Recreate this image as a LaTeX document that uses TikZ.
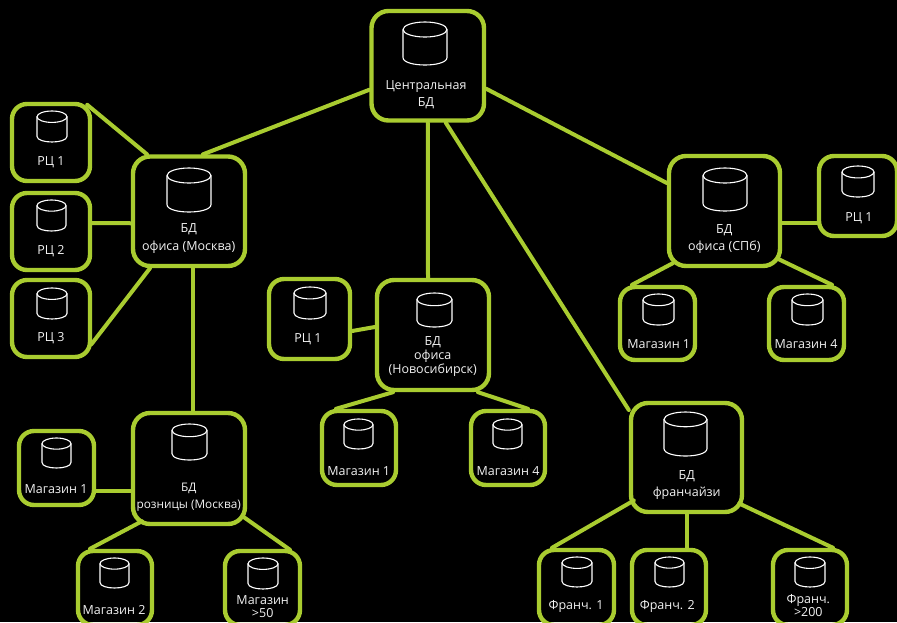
\documentclass[tikz,border=0pt]{standalone}
\usepackage{fontspec}
\setmainfont{Open Sans}
\definecolor{lime}{HTML}{A9CC30}
\definecolor{txt}{HTML}{F2F2F2}
\tikzset{
  x=1pt,y=-1pt,
  dbbox/.style={draw=lime,line width=4.4pt,rounded corners=17pt,inner sep=0pt,minimum width=#1},
  smallbox/.style={dbbox=#1,rounded corners=15pt},
  link/.style={draw=lime,line width=4pt,line cap=round},
  lbl/.style={text=txt,inner sep=0pt,align=center,font=\fontsize{12.5}{#1}\selectfont},
  lbl/.default=15,
  cyl/.style={draw=white,line width=1.1pt}
}
% cylinder icon: x1,y1,x2,y2 of its outline
\newcommand{\dbicon}[4]{%
  \pgfmathsetmacro{\ry}{0.129*(#3-#1)+1.83}%
  \pgfmathsetmacro{\cx}{(#1+#3)/2}%
  \pgfmathsetmacro{\rx}{(#3-#1)/2}%
  \pgfmathsetmacro{\ta}{#2+\ry}%
  \pgfmathsetmacro{\ba}{#4-\ry}%
  \pgfmathsetmacro{\bc}{#4+\ry/3}%
  \draw[cyl] (\cx,\ta) ellipse [x radius=\rx,y radius=\ry];
  \draw[cyl] (#1,\ta) -- (#1,\ba) .. controls (#1,\bc) and (#3,\bc) .. (#3,\ba) -- (#3,\ta);
}
\begin{document}
\begin{tikzpicture}
\fill[black] (0,0) rectangle (897,622);
\useasboundingbox (0,0) rectangle (897,622);
\clip (0,0) rectangle (897,622);
% boxes
\node[dbbox=112.5pt,minimum height=109.5pt] (cen) at (427.75,65.75) {};
\node[dbbox=112pt,minimum height=109.5pt] (mos) at (189,211.25) {};
\node[smallbox=78pt,minimum height=77pt] (r1) at (51,142.5) {};
\node[smallbox=78pt,minimum height=77pt] (r2) at (51,231.5) {};
\node[smallbox=78pt,minimum height=77pt] (r3) at (51,318.5) {};
\node[dbbox=112pt,minimum height=111pt] (ret) at (189,468.5) {};
\node[smallbox=75pt,minimum height=74pt] (m1) at (56.5,468) {};
\node[smallbox=74pt,minimum height=74pt] (m2) at (115,588) {};
\node[smallbox=75pt,minimum height=74pt] (m50) at (262.5,588) {};
\node[dbbox=112pt,minimum height=110pt] (nov) at (433,335) {};
\node[smallbox=81pt,minimum height=80pt] (nr) at (309.5,319) {};
\node[smallbox=74pt,minimum height=74pt] (nm1) at (359,448) {};
\node[smallbox=74pt,minimum height=74pt] (nm4) at (508,448) {};
\node[dbbox=111pt,minimum height=110pt] (spb) at (724.5,211) {};
\node[smallbox=78pt,minimum height=80pt] (sr) at (858,196) {};
\node[smallbox=75pt,minimum height=73pt] (sm1) at (657.5,323.5) {};
\node[smallbox=75pt,minimum height=73pt] (sm4) at (806.5,323.5) {};
\node[dbbox=111pt,minimum height=109pt] (fr) at (686.5,457.5) {};
\node[smallbox=75pt,minimum height=75pt] (f1) at (576.5,587.5) {};
\node[smallbox=74pt,minimum height=75pt] (f2) at (669,587.5) {};
\node[smallbox=74pt,minimum height=75pt] (f3) at (810,587.5) {};
% connectors
\draw[link] ([shift={(0,24)}]cen.west) -- ([shift={(14,0)}]mos.north);
\draw[link] (cen.south) -- ([shift={(-5,0)}]nov.north);
\draw[link] ([shift={(18,0)}]cen.south) -- ([shift={(0,-47.5)}]fr.west);
\draw[link] ([shift={(0,23)}]cen.east) -- ([shift={(0,-28)}]spb.west);
\draw[link] ([shift={(-5,3)}]r1.north east) -- ([shift={(-42,0)}]mos.north);
\draw[link] ([shift={(0,-8.5)}]r2.east) -- ([shift={(0,12)}]mos.west);
\draw[link] ([shift={(-1,26)}]r3.east) -- ([shift={(-39,0)}]mos.south);
\draw[link] ([shift={(3.7,0)}]mos.south) -- ([shift={(3.7,0)}]ret.north);
\draw[link] ([shift={(0,23)}]m1.east) -- ([shift={(0,22.5)}]ret.west);
\draw[link] ([shift={(-47,-5)}]ret.south) -- ([shift={(-25,0)}]m2.north);
\draw[link] ([shift={(-5,47.5)}]ret.east) -- ([shift={(27.5,1)}]m50.north);
\draw[link] ([shift={(0,12)}]nr.east) -- ([shift={(0,-8)}]nov.west);
\draw[link] ([shift={(-40,0)}]nov.south) -- ([shift={(-23,0)}]nm1.north);
\draw[link] ([shift={(45,0)}]nov.south) -- ([shift={(20,0)}]nm4.north);
\draw[link] ([shift={(0,12)}]spb.east) -- ([shift={(0,27)}]sr.west);
\draw[link] ([shift={(6,-5)}]spb.south west) -- ([shift={(-25.5,0)}]sm1.north);
\draw[link] ([shift={(-5,47.5)}]spb.east) -- ([shift={(25.5,0)}]sm4.north);
\draw[link] ([shift={(5,43)}]fr.west) -- ([shift={(-24.5,0)}]f1.north);
\draw[link] (fr.south) -- ([shift={(17.5,0)}]f2.north);
\draw[link] ([shift={(-5,46)}]fr.east) -- ([shift={(23,0)}]f3.north);
% database icons
\dbicon{403}{22}{447}{65}
\dbicon{167}{168}{211}{212}
\dbicon{703}{168}{747}{211}
\dbicon{664}{412}{707}{456}
\dbicon{172}{424}{207}{460}
\dbicon{417}{293}{452}{327}
\dbicon{37}{111}{67}{142}
\dbicon{37}{200}{66}{231}
\dbicon{37}{288}{67}{319}
\dbicon{294}{287}{326}{319}
\dbicon{42}{438}{71}{468}
\dbicon{100}{558}{129}{588}
\dbicon{248}{558}{278}{589}
\dbicon{344}{419}{373}{449}
\dbicon{493}{419}{522}{449}
\dbicon{842}{166}{874}{197}
\dbicon{643}{294}{674}{325}
\dbicon{792}{294}{823}{325}
\dbicon{562}{557}{592}{587}
\dbicon{655}{557}{684}{587}
\dbicon{795}{557}{825}{587}
% labels
\node[lbl=17pt] (tcen) at (426,94.5) {Центральная\\БД};
\node[lbl=17.5pt] (tmos) at (188.7,238.5) {БД\\офиса (Москва)};
\node[lbl] (tr1) at (51,162) {РЦ 1};
\node[lbl] (tr2) at (51,251) {РЦ 2};
\node[lbl] (tr3) at (51,338) {РЦ 3};
\node[lbl=17.5pt,font=\fontsize{11.8}{17.5}\selectfont] (tret) at (188.7,497) {БД\\розницы (Москва)};
\node[lbl] (tm1) at (56,489) {Магазин 1};
\node[lbl] (tm2) at (114,610) {Магазин 2};
\node[lbl=13.5pt] (tm50) at (262.7,606.5) {Магазин\\>50};
\node[lbl=14pt] (tnov) at (432.7,357) {БД\\офиса\\(Новосибирск)};
\node[lbl] (tnr) at (308,339) {РЦ 1};
\node[lbl] (tnm1) at (358.7,470.7) {Магазин 1};
\node[lbl] (tnm4) at (508,470.7) {Магазин 4};
\node[lbl=17pt] (tspb) at (724.3,239.5) {БД\\офиса (СПб)};
\node[lbl] (tsr) at (859,217.7) {РЦ 1};
\node[lbl] (tsm1) at (658.7,344) {Магазин 1};
\node[lbl] (tsm4) at (806,344) {Магазин 4};
\node[lbl=17.5pt] (tfr) at (686.7,485) {БД\\франчайзи};
\node[lbl] (tf1) at (576,606.7) {Франч. 1};
\node[lbl] (tf2) at (667.3,606.7) {Франч. 2};
\node[lbl=13pt] (tf3) at (808.3,605.5) {Франч.\\>200};
\end{tikzpicture}
\end{document}
